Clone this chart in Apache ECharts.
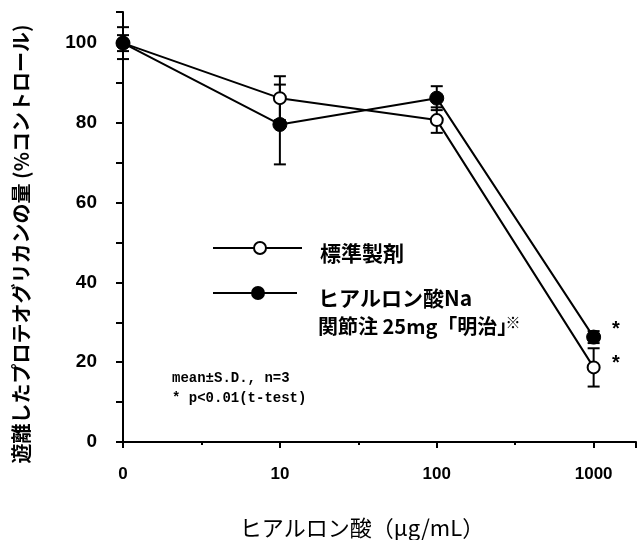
<!DOCTYPE html>
<html><head><meta charset="utf-8">
<script src="https://cdn.jsdelivr.net/npm/echarts@6/dist/echarts.min.js"></script>
<style>html,body{margin:0;padding:0;background:#fff}#c{width:639px;height:540px}</style>
</head><body><div id="c"></div>
<script>
const categories = ['0', '10', '100', '1000'];
const seriesNames = ['標準製剤', 'ヒアルロン酸Na'];
const standardMean = [100, 86.2, 80.7, 18.7];
const standardSD = [2, 5.5, 3.2, 4.8];
const hyaluronMean = [100, 79.6, 86.2, 26.3];
const hyaluronSD = [4, 10, 3, 1.5];
const yTicks = [0, 20, 40, 60, 80, 100];
const yTitle = '遊離したプロテオグリカンの量 (%コントロール)';
const xTitle = 'ヒアルロン酸（μg/mL）';

const chart = echarts.init(document.getElementById('c'));
const pos = categories.map((c, i) => i);
function pts(m) { return m.map((v, i) => [pos[i], v]); }
function errData(m, s) { return m.map((v, i) => [pos[i], v - s[i], v + s[i]]); }
function errRender(params, api) {
  const x = api.value(0);
  const lo = api.coord([x, api.value(1)]);
  const hi = api.coord([x, api.value(2)]);
  const w = 6;
  const st = { stroke: '#000', lineWidth: 2 };
  return { type: 'group', children: [
    { type: 'line', shape: { x1: lo[0], y1: lo[1], x2: hi[0], y2: hi[1] }, style: st },
    { type: 'line', shape: { x1: lo[0] - w, y1: lo[1], x2: lo[0] + w, y2: lo[1] }, style: st },
    { type: 'line', shape: { x1: hi[0] - w, y1: hi[1], x2: hi[0] + w, y2: hi[1] }, style: st }
  ]};
}
const axisFont = { fontFamily: 'Liberation Sans', fontWeight: 'bold', color: '#000' };
chart.setOption({
  animation: false,
  grid: { left: 123, right: 0, top: 12, bottom: 98 },
  xAxis: {
    type: 'value', min: 0, max: 3.27, interval: 1,
    axisLine: { show: true, lineStyle: { color: '#000', width: 2 } },
    axisTick: { show: true, length: 6, lineStyle: { color: '#000', width: 2 } },
    minorTick: { show: true, splitNumber: 2, length: 3, lineStyle: { color: '#000', width: 2 } },
    splitLine: { show: false },
    axisLabel: { ...axisFont, fontSize: 17, margin: 24, formatter: v => { const i = Math.round(v); return (Math.abs(v - i) < 1e-6 && categories[i] !== undefined) ? categories[i] : ''; } }
  },
  yAxis: {
    type: 'value', min: 0, max: 107.8, interval: 20,
    axisLine: { show: true, lineStyle: { color: '#000', width: 2 } },
    axisTick: { show: true, length: 7, lineStyle: { color: '#000', width: 2 } },
    minorTick: { show: true, splitNumber: 2, length: 7, lineStyle: { color: '#000', width: 2 } },
    splitLine: { show: false },
    axisLabel: { ...axisFont, fontSize: 19, margin: 26, formatter: v => yTicks.includes(v) ? String(v) : '' }
  },
  series: [
    { type: 'custom', renderItem: errRender, data: errData(standardMean, standardSD), z: 1 },
    { type: 'custom', renderItem: errRender, data: errData(hyaluronMean, hyaluronSD), z: 1 },
    { name: seriesNames[0], type: 'line', data: pts(standardMean), symbol: 'circle', symbolSize: 12,
      lineStyle: { color: '#000', width: 2 }, itemStyle: { color: '#fff', borderColor: '#000', borderWidth: 2 }, z: 3 },
    { name: seriesNames[1], type: 'line', data: pts(hyaluronMean), symbol: 'circle', symbolSize: 14,
      lineStyle: { color: '#000', width: 2 }, itemStyle: { color: '#000', borderColor: '#000', borderWidth: 1 }, z: 4 }
  ],
  graphic: [
    { type: 'text', x: 21, y: 244, rotation: Math.PI / 2, style: { text: yTitle, font: 'bold 20px "Noto Sans CJK JP"', fill: '#000', align: 'center', verticalAlign: 'middle' } },
    { type: 'text', x: 362, y: 528, style: { text: xTitle, font: '22px "Noto Sans CJK JP"', fill: '#000', align: 'center', verticalAlign: 'middle' } },
    { type: 'line', shape: { x1: 213, y1: 248, x2: 302, y2: 248 }, style: { stroke: '#000', lineWidth: 2 } },
    { type: 'circle', shape: { cx: 260, cy: 248, r: 6 }, style: { fill: '#fff', stroke: '#000', lineWidth: 2 } },
    { type: 'line', shape: { x1: 213, y1: 293, x2: 297, y2: 293 }, style: { stroke: '#000', lineWidth: 2 } },
    { type: 'circle', shape: { cx: 258, cy: 293, r: 7 }, style: { fill: '#000' } },
    { type: 'text', x: 320, y: 253, style: { text: '標準製剤', font: 'bold 21px "Noto Sans CJK JP"', fill: '#000', verticalAlign: 'middle' } },
    { type: 'text', x: 318, y: 298, style: { text: 'ヒアルロン酸Na', font: 'bold 21px "Noto Sans CJK JP"', fill: '#000', verticalAlign: 'middle' } },
    { type: 'text', x: 318, y: 326, style: { text: '関節注 25mg「明治」', font: 'bold 20px "Noto Sans CJK JP"', fill: '#000', verticalAlign: 'middle' } },
    { type: 'text', x: 513, y: 322, style: { text: '※', font: 'bold 15px "Noto Sans CJK JP"', fill: '#000', align: 'center', verticalAlign: 'middle' } },
    { type: 'text', x: 616, y: 329, style: { text: '*', font: 'bold 20px "Liberation Sans"', fill: '#000', align: 'center', verticalAlign: 'middle' } },
    { type: 'text', x: 616, y: 363, style: { text: '*', font: 'bold 20px "Liberation Sans"', fill: '#000', align: 'center', verticalAlign: 'middle' } },
    { type: 'text', x: 172, y: 378, style: { text: 'mean±S.D., n=3', font: 'bold 14px "Liberation Mono"', fill: '#000', verticalAlign: 'middle' } },
    { type: 'text', x: 172, y: 398, style: { text: '* p<0.01(t-test)', font: 'bold 14px "Liberation Mono"', fill: '#000', verticalAlign: 'middle' } }
  ]
});
</script></body></html>
